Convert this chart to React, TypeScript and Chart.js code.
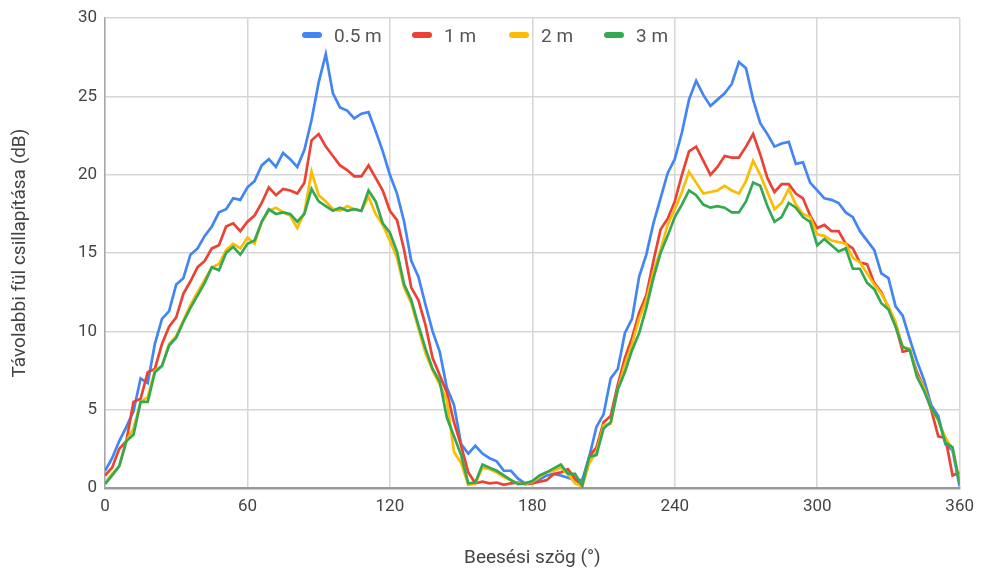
import React, { useEffect, useRef } from "react";
import { Chart, registerables } from "chart.js";

Chart.register(...registerables);

const ANGLES = [
  0, 3, 6, 9, 12, 15, 18, 21, 24, 27, 30, 33, 36, 39, 42, 45, 48, 51, 54, 57,
  60, 63, 66, 69, 72, 75, 78, 81, 84, 87, 90, 93, 96, 99, 102, 105, 108, 111, 114, 117,
  120, 123, 126, 129, 132, 135, 138, 141, 144, 147, 150, 153, 156, 159, 162, 165, 168, 171, 174, 177,
  180, 183, 186, 189, 192, 195, 198, 201, 204, 207, 210, 213, 216, 219, 222, 225, 228, 231, 234, 237,
  240, 243, 246, 249, 252, 255, 258, 261, 264, 267, 270, 273, 276, 279, 282, 285, 288, 291, 294, 297,
  300, 303, 306, 309, 312, 315, 318, 321, 324, 327, 330, 333, 336, 339, 342, 345, 348, 351, 354, 357,
  360,
];

const S05 = [
  1.1, 1.9, 3.0, 3.9, 4.9, 7.0, 6.7, 9.2, 10.8, 11.3, 13.0, 13.4, 14.9, 15.3, 16.1, 16.7, 17.6, 17.8, 18.5, 18.4,
  19.2, 19.6, 20.6, 21.0, 20.5, 21.4, 21.0, 20.5, 21.6, 23.5, 25.9, 27.7, 25.2, 24.3, 24.1, 23.6, 23.9, 24.0, 22.8, 21.5,
  20.0, 18.8, 17.0, 14.5, 13.5, 11.7, 10.0, 8.7, 6.4, 5.3, 2.8, 2.2, 2.7, 2.2, 1.9, 1.7, 1.1, 1.1, 0.6, 0.3,
  0.4, 0.55, 0.8, 0.9, 0.8, 0.65, 0.5, 0.5, 2.0, 3.9, 4.7, 7.0, 7.6, 9.9, 10.8, 13.5, 14.9, 16.9, 18.5, 20.1,
  21.0, 22.7, 24.8, 26.0, 25.1, 24.4, 24.8, 25.2, 25.8, 27.2, 26.8, 24.8, 23.3, 22.6, 21.8, 22.0, 22.1, 20.7, 20.8, 19.5,
  19.0, 18.5, 18.4, 18.2, 17.6, 17.3, 16.4, 15.8, 15.2, 13.7, 13.4, 11.6, 11.0, 9.5, 8.1, 6.9, 5.3, 4.6, 2.8, 2.4,
  0.1,
];

const S1 = [
  0.8, 1.3, 2.5, 3.0, 5.5, 5.7, 7.4, 7.6, 9.2, 10.3, 10.9, 12.4, 13.2, 14.1, 14.5, 15.3, 15.5, 16.7, 16.9, 16.4,
  17.0, 17.4, 18.2, 19.2, 18.7, 19.1, 19.0, 18.8, 19.5, 22.2, 22.6, 21.8, 21.2, 20.6, 20.3, 19.9, 19.9, 20.6, 19.8, 19.0,
  17.7, 17.1, 15.2, 12.8, 12.0, 10.4, 8.3, 7.2, 6.1, 4.2, 2.7, 1.0, 0.3, 0.4, 0.3, 0.35, 0.2, 0.3, 0.35, 0.25,
  0.3, 0.4, 0.5, 0.9, 1.0, 1.2, 0.6, 0.1, 2.0, 2.6, 4.2, 4.6, 6.6, 8.3, 9.6, 11.2, 12.3, 14.5, 16.5, 17.2,
  18.3, 20.0, 21.5, 21.8, 20.9, 20.0, 20.5, 21.2, 21.1, 21.1, 21.8, 22.6, 21.3, 19.8, 18.9, 19.4, 19.4, 18.8, 18.5, 17.4,
  16.6, 16.8, 16.4, 16.4, 15.6, 15.3, 14.4, 14.3, 13.1, 12.5, 11.5, 10.4, 8.7, 8.8, 7.4, 6.4, 5.0, 3.3, 3.2, 0.8,
  1.0,
];

const S2 = [
  0.3, 0.9, 1.4, 3.0, 3.8, 5.5, 5.8, 7.5, 7.8, 9.2, 9.7, 10.7, 11.7, 12.5, 13.3, 14.1, 14.3, 15.2, 15.6, 15.3,
  16.0, 15.6, 17.0, 17.7, 17.9, 17.6, 17.4, 16.6, 17.6, 20.2, 18.7, 18.3, 17.8, 17.7, 18.0, 17.8, 17.7, 18.6, 17.5, 16.8,
  15.8, 14.7, 12.8, 11.8, 10.2, 8.6, 7.5, 6.6, 5.6, 2.3, 1.6, 0.2, 0.3, 1.3, 1.2, 1.0, 0.7, 0.5, 0.3, 0.25,
  0.4, 0.7, 1.0, 1.1, 1.3, 0.9, 0.3, 0.1, 1.6, 2.3, 4.0, 4.1, 6.3, 7.9, 9.2, 10.8, 12.0, 13.8, 15.2, 16.8,
  17.8, 18.9, 20.2, 19.5, 18.8, 18.9, 19.0, 19.3, 19.0, 18.8, 19.6, 20.9, 20.0, 18.9, 17.8, 18.2, 19.1, 18.1, 17.5, 17.3,
  16.2, 16.1, 15.8, 15.7, 15.6, 14.7, 14.4, 13.7, 13.0, 12.4, 11.6, 10.6, 9.0, 8.9, 7.2, 6.4, 5.1, 4.3, 3.2, 2.5,
  0.4,
];

const S3 = [
  0.25, 0.8, 1.4, 3.0, 3.4, 5.5, 5.5, 7.4, 7.8, 9.1, 9.6, 10.6, 11.5, 12.3, 13.1, 14.1, 13.9, 15.0, 15.4, 14.9,
  15.6, 15.8, 17.0, 17.8, 17.5, 17.6, 17.5, 17.0, 17.5, 19.1, 18.3, 18.0, 17.7, 17.9, 17.7, 17.8, 17.7, 19.0, 18.3, 16.9,
  16.3, 15.1, 13.0, 12.0, 10.4, 8.9, 7.6, 6.8, 4.5, 3.3, 2.1, 0.3, 0.35, 1.5, 1.3, 1.1, 0.8, 0.5, 0.25, 0.3,
  0.45, 0.8, 1.0, 1.25, 1.5, 0.9, 0.9, 0.15, 2.0, 2.1, 3.8, 4.2, 6.3, 7.4, 8.8, 9.9, 11.5, 13.4, 15.0, 16.1,
  17.3, 18.1, 19.0, 18.7, 18.1, 17.9, 18.0, 17.9, 17.6, 17.6, 18.3, 19.5, 19.3, 18.0, 17.0, 17.3, 18.2, 17.9, 17.3, 17.0,
  15.5, 15.9, 15.5, 15.1, 15.3, 14.0, 14.0, 13.1, 12.7, 11.8, 11.4, 10.3, 9.0, 8.8, 7.1, 6.2, 5.1, 4.4, 2.9, 2.6,
  0.25,
];

const SERIES_LABELS = ["0.5 m", "1 m", "2 m", "3 m"];
const SERIES_COLORS = ["#4285F4", "#EA4335", "#FBBC04", "#34A853"];
const SERIES_VALUES = [S05, S1, S2, S3];
const LEGEND_LEFT = [302, 412, 509, 604];

const X_TITLE = "Beesési szög (°)";
const Y_TITLE = "Távolabbi fül csillapítása (dB)";
const FONT = "Roboto, Arial, sans-serif";

export default function App() {
  const ref = useRef<HTMLCanvasElement | null>(null);

  useEffect(() => {
    document.body.style.margin = "0";
    const canvas = ref.current;
    if (!canvas) return;
    const datasets = SERIES_VALUES.map((vals, i) => ({
      label: SERIES_LABELS[i],
      data: ANGLES.map((a, j) => ({ x: a, y: vals[j] })),
      borderColor: SERIES_COLORS[i],
      backgroundColor: SERIES_COLORS[i],
      borderWidth: 2.7,
      pointRadius: 0,
      tension: 0,
      order: 4 - i,
    }));
    const chart = new Chart(canvas, {
      type: "line",
      data: { datasets },
      options: {
        animation: false,
        responsive: false,
        maintainAspectRatio: false,
        layout: { padding: { top: 14, right: 21, left: 0, bottom: 0 } },
        plugins: {
          legend: { display: false },
          tooltip: { enabled: false },
        },
        scales: {
          x: {
            type: "linear",
            min: 0,
            max: 360,
            ticks: {
              stepSize: 60,
              color: "#444",
              font: { family: FONT, size: 17 },
              padding: 9,
              maxRotation: 0,
            },
            grid: { color: "#d6d6d6", lineWidth: 1.5, drawTicks: false },
            border: { color: "#9a9a9a", width: 2.5 },
            title: {
              display: true,
              text: X_TITLE,
              color: "#444",
              font: { family: FONT, size: 19 },
              padding: { top: 0, bottom: 6 },
            },
            afterFit: (s: any) => {
              s.height = 88;
            },
          },
          y: {
            min: 0,
            max: 30,
            ticks: {
              stepSize: 5,
              color: "#444",
              font: { family: FONT, size: 17 },
              padding: 8,
            },
            grid: { color: "#d6d6d6", lineWidth: 1.5, drawTicks: false },
            border: { color: "#a8a8a8", width: 1.5 },
            title: {
              display: true,
              text: Y_TITLE,
              color: "#444",
              font: { family: FONT, size: 19 },
              padding: { top: 9, bottom: 0 },
            },
            afterFit: (s: any) => {
              s.width = 105;
            },
          },
        },
      },
    });
    return () => chart.destroy();
  }, []);

  return (
    <div style={{ position: "relative", width: 983, height: 576 }}>
      <canvas ref={ref} width={983} height={576} style={{ display: "block" }} />
      {SERIES_LABELS.map((label, i) => (
        <div
          key={label}
          style={{
            position: "absolute",
            left: LEGEND_LEFT[i],
            top: 23,
            height: 24,
            display: "flex",
            alignItems: "center",
          }}
        >
          <span
            style={{
              display: "inline-block",
              width: 20,
              height: 6,
              borderRadius: 3,
              background: SERIES_COLORS[i],
              marginRight: 12,
            }}
          />
          <span style={{ fontFamily: FONT, fontSize: 19, color: "#555", whiteSpace: "nowrap" }}>
            {label}
          </span>
        </div>
      ))}
    </div>
  );
}
